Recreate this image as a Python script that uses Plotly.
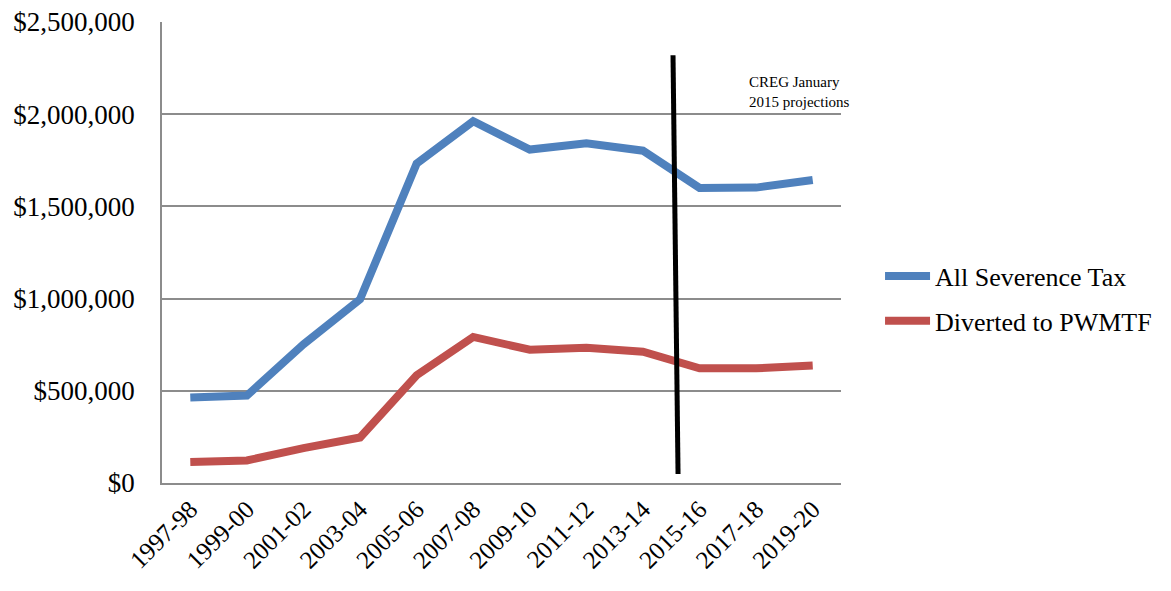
import plotly.graph_objects as go

categories = ["1997-98", "1999-00", "2001-02", "2003-04", "2005-06", "2007-08",
              "2009-10", "2011-12", "2013-14", "2015-16", "2017-18", "2019-20"]
all_severance = [463000, 474000, 752000, 996000, 1732000, 1962000,
                 1808000, 1842000, 1802000, 1600000, 1602000, 1643000]
diverted_pwmtf = [114000, 122000, 189000, 247000, 584000, 792000,
                  723000, 733000, 712000, 622000, 622000, 637000]
y_ticks = [0, 500000, 1000000, 1500000, 2000000, 2500000]

font_family = "Liberation Serif, DejaVu Serif, serif"

fig = go.Figure()
fig.add_trace(go.Scatter(x=categories, y=all_severance, mode="lines",
                         name="All Severence Tax", legendgroup="a",
                         line=dict(color="#4F81BD", width=8)))
fig.add_trace(go.Scatter(x=categories, y=diverted_pwmtf, mode="lines",
                         name="Diverted to PWMTF", legendgroup="b",
                         line=dict(color="#C0504D", width=8)))

fig.update_layout(
    width=1171, height=591,
    margin=dict(l=162, r=330, t=22, b=108),
    plot_bgcolor="white", paper_bgcolor="white",
    font=dict(family=font_family, color="black", size=21),
    showlegend=True,
    legend=dict(x=1.0575, y=0.40, xanchor="left", yanchor="middle",
                font=dict(size=26, family=font_family),
                tracegroupgap=8, itemwidth=45,
                bgcolor="rgba(0,0,0,0)"),
    xaxis=dict(type="category", tickangle=-45, showgrid=False,
               showline=True, linecolor="#8c8c8c", linewidth=1.5,
               ticks="", tickfont=dict(size=25, family=font_family),
               automargin=False,
               range=[-0.5, len(categories) - 0.5]),
    yaxis=dict(range=[0, 2500000], tickvals=y_ticks,
               ticktext=["$" + f"{v:,}" for v in y_ticks],
               showgrid=True, gridcolor="#8c8c8c", gridwidth=1.5,
               showline=True, linecolor="#8c8c8c", linewidth=1.5,
               zeroline=False, ticks="", ticklabelstandoff=20,
               automargin=False,
               tickfont=dict(size=27, family=font_family)),
    shapes=[dict(type="line", xref="paper", yref="paper",
                 x0=0.7526, y0=0.928, x1=0.760, y1=0.0195,
                 line=dict(color="black", width=5))],
    annotations=[dict(xref="paper", yref="paper", x=0.862, y=0.848,
                      xanchor="left", yanchor="middle", align="left",
                      text="CREG January<br>2015 projections", showarrow=False,
                      font=dict(size=15, family=font_family, color="black"))],
)

fig.write_html("out.html")
